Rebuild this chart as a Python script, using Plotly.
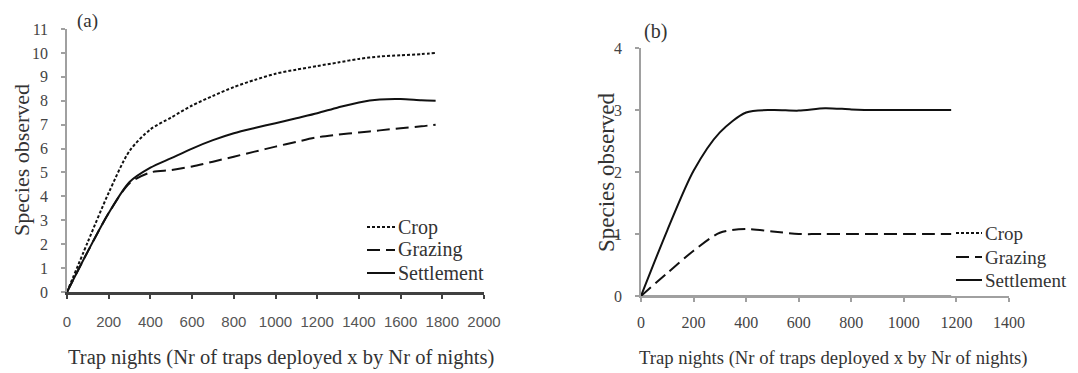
import plotly.graph_objects as go

# ---- Panel (a) data ----
a_x = [0, 100, 200, 300, 400, 500, 600, 700, 800, 900, 1000, 1100, 1200, 1300, 1400, 1500, 1600, 1700, 1768]
a_crop = [0, 2.1, 4.15, 5.9, 6.8, 7.3, 7.8, 8.2, 8.57, 8.87, 9.13, 9.3, 9.45, 9.6, 9.75, 9.85, 9.9, 9.95, 10.0]
a_grazing = [0, 1.7, 3.3, 4.55, 5.0, 5.1, 5.25, 5.45, 5.66, 5.87, 6.08, 6.28, 6.47, 6.58, 6.67, 6.76, 6.85, 6.93, 7.0]
a_settlement = [0, 1.7, 3.3, 4.6, 5.2, 5.6, 6.0, 6.35, 6.64, 6.86, 7.06, 7.27, 7.48, 7.72, 7.93, 8.05, 8.07, 8.02, 8.0]

# ---- Panel (b) data ----
b_x = [0, 100, 200, 300, 400, 500, 600, 700, 800, 900, 1000, 1100, 1180]
b_crop = [0, 0, 0, 0, 0, 0, 0, 0, 0, 0, 0, 0, 0]
b_grazing = [0, 0.37, 0.73, 1.02, 1.08, 1.04, 1.0, 1.0, 1.0, 1.0, 1.0, 1.0, 1.0]
b_settlement = [0, 1.06, 2.02, 2.64, 2.96, 3.0, 2.99, 3.03, 3.01, 3.0, 3.0, 3.0, 3.0]

series_names = ["Crop", "Grazing", "Settlement"]
dashes = ["3px,2px", "13px,6px", "solid"]

SERIF = "Liberation Serif"
INK = "#111111"
AXIS_GRAY = "#a0a0a0"

fig = go.Figure()

for name, ys, dash in zip(series_names, [a_crop, a_grazing, a_settlement], dashes):
    fig.add_trace(go.Scatter(
        x=a_x, y=ys, name=name, mode="lines", showlegend=False,
        line=dict(color=INK, width=2, dash=dash, shape="spline", smoothing=0.8),
        xaxis="x", yaxis="y",
    ))

# panel (b): crop stays at zero, lying on the x axis
b_styles = [dict(color=AXIS_GRAY, width=2, dash="solid"),
            dict(color=INK, width=2, dash=dashes[1]),
            dict(color=INK, width=2, dash=dashes[2])]
for name, ys, st in zip(series_names, [b_crop, b_grazing, b_settlement], b_styles):
    fig.add_trace(go.Scatter(
        x=b_x, y=ys, name=name, mode="lines", showlegend=False,
        line=dict(shape="spline", smoothing=0.8, **st),
        xaxis="x2", yaxis="y2",
    ))

# page body has an 8px default margin; figure sized to fit the window
OFF = 8
W, H = 1078 - OFF, 373 - OFF

def px(v):
    return (v - OFF) / W

def py(v):
    return (373 - v) / H

axis_common = dict(showgrid=False, zeroline=False, ticks="outside", ticklen=4,
                   tickwidth=1.5, fixedrange=True, automargin=False)

fig.update_layout(
    width=W, height=H,
    margin=dict(l=0, r=0, t=0, b=0, autoexpand=False),
    paper_bgcolor="white", plot_bgcolor="white",
    font=dict(family=SERIF, color=INK),
    xaxis=dict(domain=[px(67), px(484)], range=[0, 2000], dtick=200, anchor="y",
               showline=True, linecolor="#404040", linewidth=2.5, tickcolor="#404040",
               tickfont=dict(family="Liberation Sans", size=15, color="#555555"),
               ticklabelstandoff=10, **axis_common),
    yaxis=dict(domain=[py(292), py(29)], range=[0, 11], dtick=1, anchor="x",
               showline=True, linecolor=AXIS_GRAY, linewidth=1.5, tickcolor=AXIS_GRAY,
               tickfont=dict(family=SERIF, size=16, color="#444444"),
               ticklabelstandoff=10, **axis_common),
    xaxis2=dict(domain=[px(641), px(1009)], range=[0, 1400], dtick=200, anchor="y2",
                showline=True, linecolor=AXIS_GRAY, linewidth=1.5, tickcolor=AXIS_GRAY,
                tickfont=dict(family=SERIF, size=16, color="#444444"),
                ticklabelstandoff=7, **axis_common),
    yaxis2=dict(domain=[py(296), py(48)], range=[0, 4], dtick=1, anchor="x2",
                showline=True, linecolor=AXIS_GRAY, linewidth=1.5, tickcolor=AXIS_GRAY,
                tickfont=dict(family=SERIF, size=16, color="#444444"),
                ticklabelstandoff=10, **axis_common),
)

annots = [
    dict(text="(a)", x=px(87), y=py(21), font=dict(size=19, color="#333333")),
    dict(text="(b)", x=px(655), y=py(32), font=dict(size=20, color="#333333")),
    dict(text="Trap nights (Nr of traps deployed x by Nr of nights)", x=px(281), y=py(357),
         font=dict(size=20.5, color="#333333")),
    dict(text="Trap nights (Nr of traps deployed x by Nr of nights)", x=px(833), y=py(358),
         font=dict(size=18.7, color="#333333")),
    dict(text="Species observed", x=px(22), y=py(160), textangle=-90,
         font=dict(size=22, color="#333333")),
    dict(text="Species observed", x=px(606), y=py(172), textangle=-90,
         font=dict(size=23, color="#333333")),
]
for a in annots:
    fig.add_annotation(xref="paper", yref="paper", showarrow=False,
                       xanchor="center", yanchor="middle",
                       font_family=SERIF, **a)

# ---- manual legends (samples + labels) ----
legend_specs = [
    dict(x0=367, x1=395, rows=[227, 250, 273], size=20),
    dict(x0=956, x1=982, rows=[233, 257, 280], size=19),
]
for spec in legend_specs:
    for name, dash, yy in zip(series_names, dashes, spec["rows"]):
        fig.add_shape(type="line", xref="paper", yref="paper",
                      x0=px(spec["x0"]), x1=px(spec["x1"]), y0=py(yy), y1=py(yy),
                      line=dict(color=INK, width=2, dash=dash))
        fig.add_annotation(xref="paper", yref="paper", showarrow=False,
                           x=px(spec["x1"] + 1), y=py(yy), xanchor="left", yanchor="middle",
                           text=name, font=dict(family=SERIF, size=spec["size"], color="#333333"))

fig.write_html("out.html")
